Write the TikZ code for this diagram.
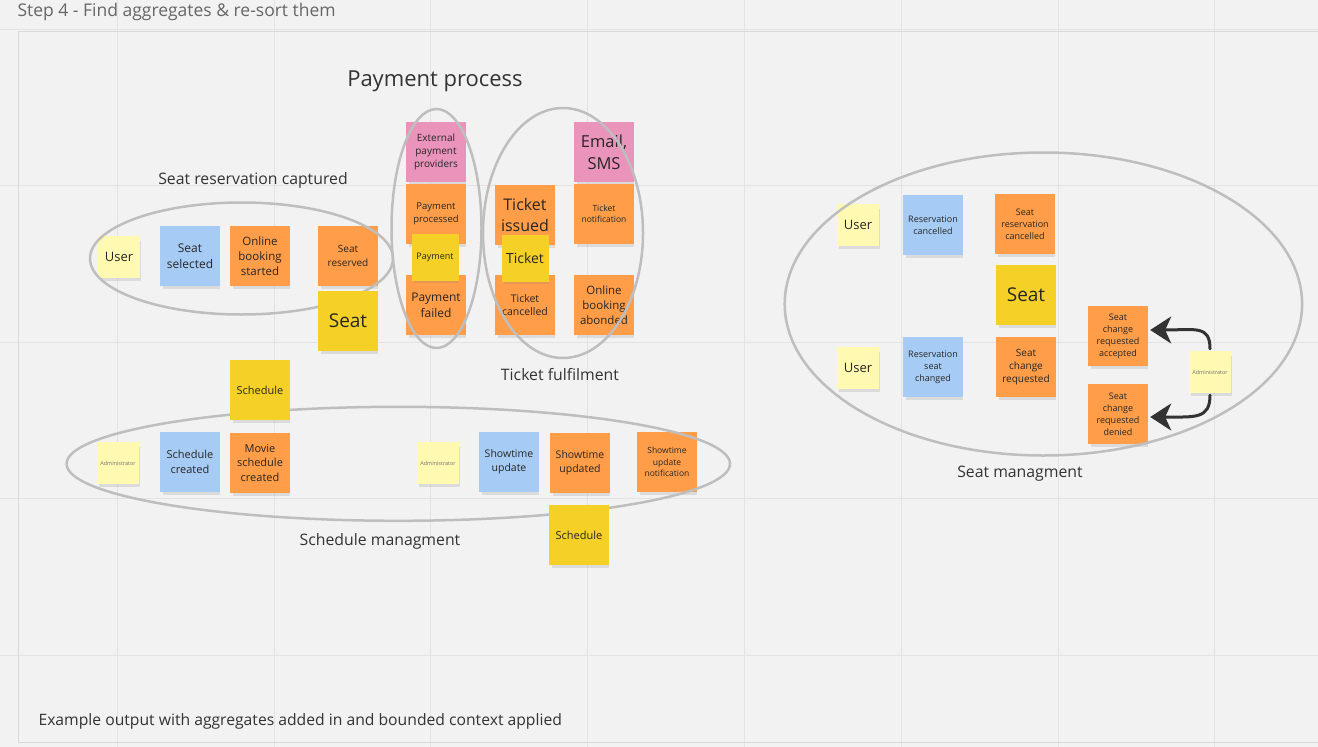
\documentclass[tikz,border=0pt]{standalone}
\usepackage{fontspec}
\usepackage{xcolor}
\usepackage{tikz}
\usetikzlibrary{arrows.meta,shadows}
\setmainfont{Open Sans}

\definecolor{board}{HTML}{F2F2F2}
\definecolor{gridline}{HTML}{E3E3E3}
\definecolor{ringgray}{HTML}{BEBEBE}
\definecolor{inkgray}{HTML}{333333}
\definecolor{actoryellow}{HTML}{FFF9B1}
\definecolor{cmdblue}{HTML}{A6CCF5}
\definecolor{evtorange}{HTML}{FF9D48}
\definecolor{aggyellow}{HTML}{F5D128}
\definecolor{extpink}{HTML}{EA94BB}

\begin{document}
\begin{tikzpicture}[x=1pt, y=-1pt,
    fs/.style={font=\fontsize{#1}{\fpeval{1.32*#1}}\selectfont},
    note/.style={minimum width=60pt, minimum height=60pt, inner sep=1pt, align=center, text=black!85,
        drop shadow={shadow xshift=1.5pt, shadow yshift=-4pt, opacity=.2, shadow scale=.96}},
    actor/.style={note, fill=actoryellow, minimum width=42pt, minimum height=42pt},
    command/.style={note, fill=cmdblue},
    event/.style={note, fill=evtorange},
    aggregate/.style={note, fill=aggyellow},
    extsys/.style={note, fill=extpink},
    ring/.style={draw=ringgray, line width=2.5pt},
    caption/.style={text=inkgray, fs=15.8},
    decision/.style={draw=inkgray, line width=3pt, line cap=round,
        -{Stealth[length=21pt, width=27pt, inset=6pt]}}]
    \useasboundingbox (0,0) rectangle (1318,747);
    \fill[board] (0,0) rectangle (1318,747);
    \foreach \gx in {0,...,7}
        \draw[gridline, line width=1pt] (117.3+156.8*\gx,0) -- (117.3+156.8*\gx,747);
    \foreach \gy in {0,...,4}
        \draw[gridline, line width=1pt] (0,29.5+156.4*\gy) -- (1318,29.5+156.4*\gy);
    \draw[black!15, line width=1pt] (18,31) rectangle (1330,742);
    \node[anchor=west, text=black!60, fs=17.5] (title) at (14,12) {Step 4 - Find aggregates \& re-sort them};

    \node[actor, fs=13] (user1) at (119,257) {User};
    \node[command, fs=12] (seatsel) at (190,256) {Seat\\selected};
    \node[event, fs=11.5] (bookstart) at (260,256) {Online\\booking\\started};
    \node[event, fs=10] (seatres) at (348,256) {Seat\\reserved};

    \node[extsys, fs=10] (extpay) at (436,152) {External\\payment\\providers};
    \node[event, fs=9.5] (payproc) at (436,214) {Payment\\processed};
    \node[event, fs=12] (payfail) at (436,305) {Payment\\failed};

    \node[event, fs=16] (tissued) at (525,215) {Ticket\\issued};
    \node[event, fs=10.5] (tcancel) at (525,305) {Ticket\\cancelled};
    \node[extsys, fs=16.5] (email) at (604,152) {Email,\\SMS};
    \node[event, fs=8.5] (tnotify) at (604,214) {Ticket\\notification};
    \node[event, fs=11.5] (abond) at (604,305) {Online\\booking\\abonded};

    \node[actor, fs=5.5, text=black!55] (admin1) at (118,463) {Administrator};
    \node[command, fs=11] (schedcr) at (190,462) {Schedule\\created};
    \node[event, fs=11] (moviesch) at (260,463) {Movie\\schedule\\created};
    \node[actor, fs=5.5, text=black!55] (admin2) at (438,463) {Administrator};
    \node[command, fs=10.5] (showupd) at (509,462) {Showtime\\update};
    \node[event, fs=10.5] (showupdd) at (580,463) {Showtime\\updated};
    \node[event, fs=8.5] (shownotif) at (667,462) {Showtime\\update\\notification};

    \node[actor, fs=13] (user2) at (858,225) {User};
    \node[command, fs=9] (rescanc) at (933,225) {Reservation\\cancelled};
    \node[event, fs=9] (seatrescanc) at (1025,224) {Seat\\reservation\\cancelled};
    \node[actor, fs=13] (user3) at (858,368) {User};
    \node[command, fs=9] (resseat) at (933,367) {Reservation\\seat\\changed};
    \node[event, fs=10] (chgreq) at (1026,367) {Seat\\change\\requested};
    \node[event, fs=9] (chgacc) at (1118,336) {Seat\\change\\requested\\accepted};
    \node[event, fs=9] (chgden) at (1118,414) {Seat\\change\\requested\\denied};
    \node[actor, fs=5.5, text=black!55] (admin3) at (1210,372) {Administrator};

    \draw[ring] (241.5,258.5) ellipse [x radius=151.5, y radius=56];
    \draw[ring] (436.5,228.5) ellipse [x radius=45, y radius=119.5];
    \draw[ring] (563,233) ellipse [x radius=80, y radius=125];
    \draw[ring] (398.3,463.8) ellipse [x radius=331.7, y radius=57];
    \draw[ring] (1043.4,304) ellipse [x radius=258.7, y radius=151.5];

    \node[aggregate, fs=19] (seat1) at (348,321) {Seat};
    \node[aggregate, fs=9, minimum size=47pt] (payment) at (435,257) {Payment};
    \node[aggregate, fs=14, minimum size=47pt] (ticket) at (525,258) {Ticket};
    \node[aggregate, fs=11] (sched1) at (260,390) {Schedule};
    \node[aggregate, fs=11] (sched2) at (579,535) {Schedule};
    \node[aggregate, fs=19] (seat2) at (1026,295) {Seat};

    \draw[decision] ([yshift=2pt]admin3.north) .. controls +(0,-24) and +(45,0) .. ([xshift=2pt, yshift=6pt]chgacc.east);
    \draw[decision] ([yshift=-2pt]admin3.south) .. controls +(0,24) and +(45,0) .. ([xshift=2pt, yshift=-3pt]chgden.east);

    \node[caption] (capseat) at (253,180) {Seat reservation captured};
    \node[caption, fs=22] (cappay) at (435,81) {Payment process};
    \node[caption] (capticket) at (560,375) {Ticket fulfilment};
    \node[caption] (capsched) at (380,541) {Schedule managment};
    \node[caption] (capseatmg) at (1020,474) {Seat managment};
    \node[anchor=west, text=inkgray, fs=15.7] (footer) at (35,721) {Example output with aggregates added in and bounded context applied};
\end{tikzpicture}
\end{document}
